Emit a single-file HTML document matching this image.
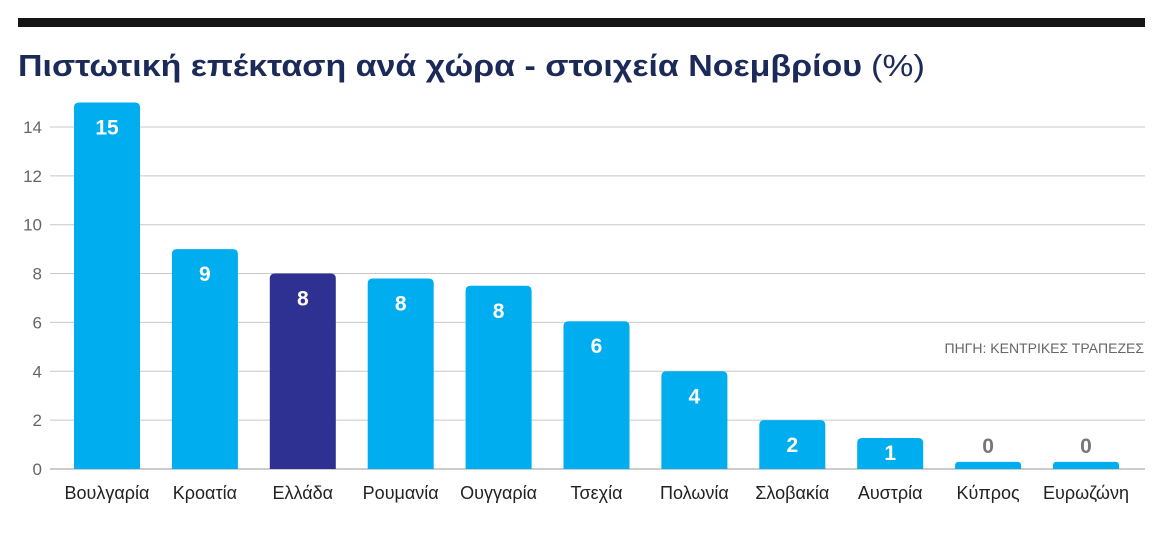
<!DOCTYPE html>
<html><head><meta charset="utf-8"><style>
body{margin:0;background:#fff;width:1174px;height:531px;overflow:hidden;font-family:"Liberation Sans",sans-serif}
</style></head><body>
<svg width="1174" height="531" id="c">
<rect x="18" y="18" width="1127" height="9" fill="#141414"/>
<text x="18" y="76" font-size="31" font-weight="bold" fill="#1c2a5a" textLength="844" lengthAdjust="spacingAndGlyphs">Πιστωτική επέκταση ανά χώρα - στοιχεία Νοεμβρίου</text>
<text x="871" y="76" font-size="31" fill="#1c2a5a" textLength="54" lengthAdjust="spacingAndGlyphs">(%)</text>
<text x="1144" y="353" font-size="14" fill="#666" text-anchor="end">ΠΗΓΗ: ΚΕΝΤΡΙΚΕΣ ΤΡΑΠΕΖΕΣ</text>
<g id="grid"></g><g id="bars"></g>
</svg>
<script>
const categories=["Βουλγαρία","Κροατία","Ελλάδα","Ρουμανία","Ουγγαρία","Τσεχία","Πολωνία","Σλοβακία","Αυστρία","Κύπρος","Ευρωζώνη"];
const values=[15,9,8,7.8,7.5,6.05,4,2,1.27,0.29,0.29];
const labels=["15","9","8","8","8","6","4","2","1","0","0"];
const ticks=[0,2,4,6,8,10,12,14];
const NS="http://www.w3.org/2000/svg";
const y=v=>469-v*24.43;
const x=i=>74+i*97.9;
const bw=66;
function mk(t,a,p){const e=document.createElementNS(NS,t);for(const k in a)e.setAttribute(k,a[k]);p.appendChild(e);return e;}
const g=document.getElementById('grid'),b=document.getElementById('bars');
ticks.forEach(t=>{
 const l=mk('line',{x1:50,x2:1145,y1:y(t),y2:y(t),stroke:t===0?'#999':'#c8c8c8','stroke-width':1},g);
 
 
 const tx=mk('text',{x:42,y:y(t)+6,'font-size':17,fill:'#666','text-anchor':'end'},g);
 tx.textContent=t;
 
 
});
values.forEach((v,i)=>{
 const top=y(v),h=469-top,r=Math.min(5,h/2);
 const p=mk('path',{d:`M${x(i)},469V${top+r}Q${x(i)},${top} ${x(i)+r},${top}H${x(i)+bw-r}Q${x(i)+bw},${top} ${x(i)+bw},${top+r}V469Z`,fill:i===2?'#2e3192':'#00aeef'},b);
 
 
 const inside=h>25;
 const ly=!inside?top-9:(h>45?top+32:top+22);
 const lt=mk('text',{x:x(i)+bw/2,y:ly,'font-size':21,'font-weight':'bold',fill:inside?'#fff':'#777','text-anchor':'middle'},b);
 lt.textContent=labels[i];
 
 
 const ct=mk('text',{x:x(i)+bw/2,y:499,'font-size':18,fill:'#222','text-anchor':'middle'},b);
 ct.textContent=categories[i];
 
 
});
</script>
</body></html>
